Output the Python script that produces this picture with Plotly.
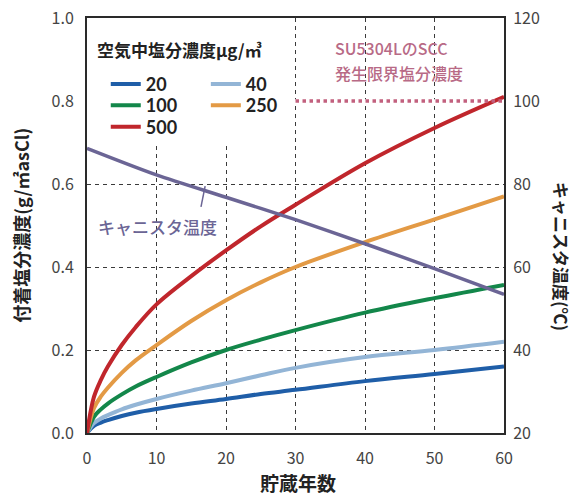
import plotly.graph_objects as go

# ---- data ----
years = [0, 1, 2, 3, 5, 7, 10, 15, 20, 25, 30, 40, 50, 60]
salt_20 = [0, 0.017, 0.025, 0.031, 0.041, 0.049, 0.058, 0.071, 0.082, 0.094, 0.104, 0.125, 0.142, 0.160]
salt_40 = [0, 0.024, 0.035, 0.043, 0.057, 0.068, 0.082, 0.102, 0.120, 0.139, 0.157, 0.183, 0.200, 0.220]
salt_100 = [0, 0.039, 0.057, 0.071, 0.093, 0.112, 0.135, 0.170, 0.200, 0.225, 0.248, 0.290, 0.325, 0.357]
salt_250 = [0, 0.060, 0.088, 0.109, 0.145, 0.175, 0.212, 0.270, 0.320, 0.363, 0.400, 0.460, 0.515, 0.570]
salt_500 = [0, 0.087, 0.128, 0.160, 0.212, 0.255, 0.310, 0.378, 0.440, 0.498, 0.550, 0.650, 0.735, 0.810]

temp_years = [0, 10, 20, 30, 40, 50, 60]
canister_temp = [88.6, 82.2, 76.8, 71.4, 65.6, 59.6, 53.4]

scc_years = [30, 60]
scc_limit = [0.8, 0.8]

series_names = ["20", "40", "100", "250", "500"]
series_values = [salt_20, salt_40, salt_100, salt_250, salt_500]
series_colors = ["#1f5ea8", "#93b5d6", "#13874a", "#e39a45", "#c0262c"]
legend_ids = ["legend", "legend2", "legend3", "legend4", "legend5"]

x_ticks = [0, 10, 20, 30, 40, 50, 60]
y_ticks = [0.0, 0.2, 0.4, 0.6, 0.8, 1.0]
y_tick_text = ["0.0", "0.2", "0.4", "0.6", "0.8", "1.0"]
y2_ticks = [20, 40, 60, 80, 100, 120]

JP = "Noto Sans CJK JP"

fig = go.Figure()

for name, vals, col, lg in zip(series_names, series_values, series_colors, legend_ids):
    fig.add_trace(go.Scatter(
        x=years, y=vals, mode="lines", name=name,
        line=dict(color=col, width=4, shape="spline", smoothing=1.0),
        legend=lg, yaxis="y"))

fig.add_trace(go.Scatter(
    x=temp_years, y=canister_temp, mode="lines", name="キャニスタ温度",
    line=dict(color="#6b6595", width=3.5, shape="spline", smoothing=0.8),
    showlegend=False, yaxis="y2"))

fig.add_trace(go.Scatter(
    x=scc_years, y=scc_limit, mode="lines", name="SCC",
    line=dict(color="#c2607e", width=3.5, dash="dot"), showlegend=False, yaxis="y"))

grid = dict(showgrid=True, gridcolor="#3a3a3a", gridwidth=1.3, griddash="4px,4px")
axis_line = dict(showline=True, linecolor="#2a2a2a", linewidth=2, mirror=True, zeroline=False)
tickfont = dict(family=JP, size=16, color="#444444")

fig.update_layout(
    width=576, height=496,
    margin=dict(l=87, r=72, t=18, b=63, autoexpand=False),
    paper_bgcolor="white", plot_bgcolor="white",
    xaxis=dict(range=[0, 60], tickvals=x_ticks, ticks="outside", ticklen=10,
               tickcolor="rgba(0,0,0,0)", tickfont=tickfont, **grid, **axis_line),
    yaxis=dict(range=[0, 1.0], tickvals=y_ticks, ticktext=y_tick_text, ticks="outside",
               ticklen=8, tickcolor="rgba(0,0,0,0)", tickfont=tickfont, **grid, **axis_line),
    yaxis2=dict(range=[20, 120], tickvals=y2_ticks, overlaying="y", side="right",
                showgrid=False, zeroline=False, ticks="outside", ticklen=5,
                tickcolor="rgba(0,0,0,0)", tickfont=tickfont),
    showlegend=True,
)

legend_pos = {
    "legend": (0.045, 0.840),
    "legend2": (0.285, 0.840),
    "legend3": (0.045, 0.789),
    "legend4": (0.285, 0.789),
    "legend5": (0.045, 0.737),
}
for lg, (lx, ly) in legend_pos.items():
    fig.update_layout({lg: dict(x=lx, y=ly, xanchor="left", yanchor="middle",
                                bgcolor="rgba(0,0,0,0)", borderwidth=0,
                                font=dict(family="Lato", size=18, color="#222222", weight="bold"))})

# white cover for gridlines behind the legend area
fig.add_shape(type="rect", xref="x", yref="y", x0=0, x1=29.5, y0=0.694, y1=1.0,
              fillcolor="white", line=dict(width=0), layer="between")
fig.add_shape(type="rect", xref="x", yref="y", x0=29.5, x1=60, y0=0.796, y1=0.804,
              fillcolor="white", line=dict(width=0), layer="between")

# leader line for the temperature label
fig.add_shape(type="line", xref="x", yref="y", x0=16.4, y0=0.545, x1=17.0, y1=0.595,
              line=dict(color="#6b6595", width=1.5))

ann = [
    dict(text="<b>空気中塩分濃度μg/㎥</b>", x=0.018, y=0.925, xanchor="left", yanchor="middle",
         font=dict(family=JP, size=17, color="#222222")),
    dict(text="SU5304LのSCC", x=0.59, y=0.928, xanchor="left", yanchor="middle",
         font=dict(family=JP, size=16, color="#b86a86", weight=500)),
    dict(text="発生限界塩分濃度", x=0.59, y=0.867, xanchor="left", yanchor="middle",
         font=dict(family=JP, size=16, color="#b86a86", weight=500)),
    dict(text="キャニスタ温度", x=0.17, y=0.497, xanchor="center", yanchor="middle",
         font=dict(family=JP, size=17, color="#6b6595", weight=500)),
    dict(text="<b>付着塩分濃度(g/㎡asCl)</b>", x=-0.16, y=0.5, textangle=-90,
         xanchor="center", yanchor="middle", font=dict(family=JP, size=18, color="#222222")),
    dict(text="<b>キャニスタ温度(℃)</b>", x=1.139, y=0.424, textangle=90,
         xanchor="center", yanchor="middle", font=dict(family=JP, size=17, color="#222222")),
    dict(text="<b>貯蔵年数</b>", x=0.505, y=-0.12, xanchor="center", yanchor="middle",
         font=dict(family=JP, size=19, color="#222222")),
]
for a in ann:
    fig.add_annotation(xref="paper", yref="paper", showarrow=False, **a)

fig.write_html("out.html", config={"displayModeBar": False},
               post_script="document.body.style.margin='0';")
